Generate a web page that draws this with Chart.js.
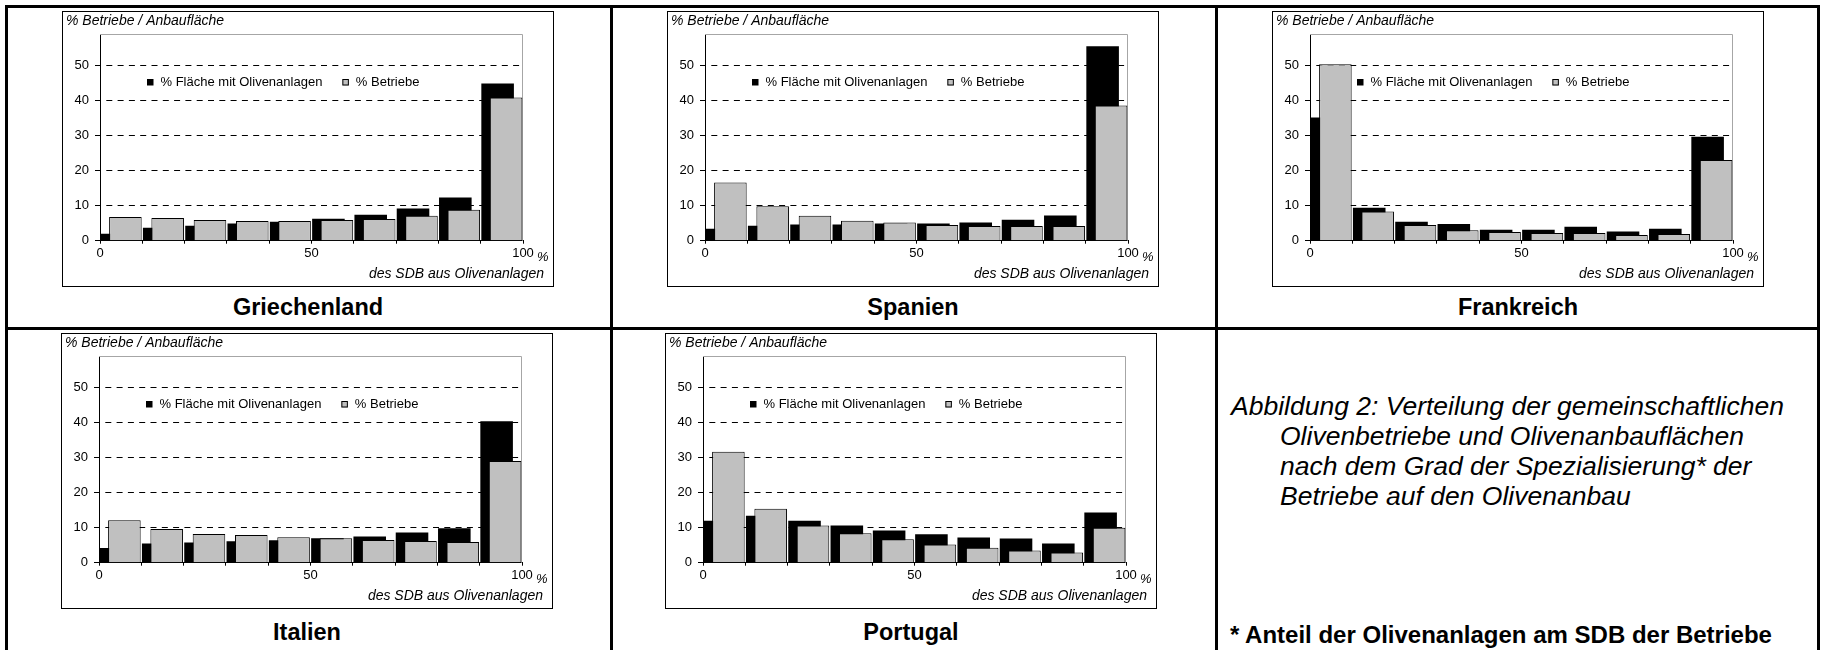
<!DOCTYPE html>
<html>
<head>
<meta charset="utf-8">
<script src="https://cdn.jsdelivr.net/npm/chart.js@4.4.1/dist/chart.umd.min.js"></script>
<style>
  body { margin: 0; width: 1822px; height: 650px; background: #fff; position: relative; overflow: hidden;
         font-family: 'Liberation Sans', Arial, sans-serif; color: #000; }
  .line { position: absolute; background: #000; }
  .frame { position: absolute; width: 490px; height: 274px; border: 1px solid #000; background: #fff; }
  .frame canvas { display: block; }
  .land { position: absolute; width: 492px; text-align: center; font-weight: bold; font-size: 23.5px; line-height: 28px; }
  .caption { position: absolute; left: 1231px; top: 391px; font-style: italic; font-size: 26.5px; line-height: 30px; white-space: nowrap; }
  .caption div + div { padding-left: 49px; }
  .note { position: absolute; left: 1230px; top: 621px; font-weight: bold; font-size: 24px; line-height: 28px; white-space: nowrap; }
</style>
</head>
<body>
<div class="line" style="left:5px;top:5px;width:1815px;height:3px"></div>
<div class="line" style="left:5px;top:327px;width:1815px;height:3px"></div>
<div class="line" style="left:5px;top:5px;width:3px;height:645px"></div>
<div class="line" style="left:610px;top:5px;width:3px;height:645px"></div>
<div class="line" style="left:1215px;top:5px;width:3px;height:645px"></div>
<div class="line" style="left:1817px;top:5px;width:3px;height:645px"></div>

<div class="frame" style="left:62px;top:11px"><canvas id="chartGR" width="490" height="274"></canvas></div>
<div class="frame" style="left:667px;top:11px"><canvas id="chartES" width="490" height="274"></canvas></div>
<div class="frame" style="left:1272px;top:11px"><canvas id="chartFR" width="490" height="274"></canvas></div>
<div class="frame" style="left:61px;top:333px"><canvas id="chartIT" width="490" height="274"></canvas></div>
<div class="frame" style="left:665px;top:333px"><canvas id="chartPT" width="490" height="274"></canvas></div>

<div class="land" style="left:62px;top:293px">Griechenland</div>
<div class="land" style="left:667px;top:293px">Spanien</div>
<div class="land" style="left:1272px;top:293px">Frankreich</div>
<div class="land" style="left:61px;top:618px">Italien</div>
<div class="land" style="left:665px;top:618px">Portugal</div>

<div class="caption">
  <div>Abbildung 2: Verteilung der gemeinschaftlichen</div>
  <div>Olivenbetriebe und Olivenanbauflächen</div>
  <div>nach dem Grad der Spezialisierung* der</div>
  <div>Betriebe auf den Olivenanbau</div>
</div>
<div class="note">* Anteil der Olivenanlagen am SDB der Betriebe</div>

<script>
// Klassen: Anteil der Olivenanlagen am SDB, Klassenmitte in %
const binMid = [5, 15, 25, 35, 45, 55, 65, 75, 85, 95];
const seriesLabels = ['% Fläche mit Olivenanlagen', '% Betriebe'];
const yTitle = '% Betriebe / Anbaufläche';
const xTitle = 'des SDB aus Olivenanlagen';
const yTickLabels = [0, 10, 20, 30, 40, 50];
const xTickLabels = [0, 50, 100];

const griechenlandFlaeche = [2.0, 3.7, 4.3, 4.9, 5.4, 6.3, 7.4, 9.2, 12.3, 44.9];
const griechenlandBetriebe = [6.8, 6.5, 5.9, 5.6, 5.6, 5.9, 6.2, 7.1, 8.8, 40.9];
const spanienFlaeche = [3.4, 4.3, 4.6, 4.6, 4.9, 4.9, 5.2, 6.0, 7.2, 55.5];
const spanienBetriebe = [16.6, 9.8, 7.1, 5.7, 5.2, 4.5, 4.2, 4.2, 4.2, 38.6];
const frankreichFlaeche = [35.2, 9.4, 5.4, 4.8, 3.1, 3.1, 4.0, 2.6, 3.4, 29.7];
const frankreichBetriebe = [50.4, 8.3, 4.5, 3.0, 2.5, 2.2, 2.2, 1.6, 1.9, 23.0];
const italienFlaeche = [4.2, 5.5, 5.8, 6.1, 6.4, 7.0, 7.5, 8.6, 9.8, 40.4];
const italienBetriebe = [12.1, 9.6, 8.2, 7.9, 7.3, 7.0, 6.5, 6.2, 5.9, 29.0];
const portugalFlaeche = [12.0, 13.4, 12.0, 10.6, 9.2, 8.1, 7.2, 6.9, 5.5, 14.3];
const portugalBetriebe = [31.7, 15.4, 10.6, 8.4, 6.7, 5.2, 4.3, 3.5, 2.9, 10.0];

const FONT = "'Liberation Sans', Arial, sans-serif";
Chart.defaults.font.family = FONT;
Chart.defaults.color = '#000';

// grey frame of the plot area (top + right), left/bottom are the axes
const plotFrame = {
  id: 'plotFrame',
  beforeDatasetsDraw(chart) {
    const {ctx, chartArea: a} = chart;
    ctx.save();
    ctx.strokeStyle = '#a6a6a6';
    ctx.lineWidth = 1;
    ctx.beginPath();
    ctx.moveTo(a.left, a.top + 0.5);
    ctx.lineTo(a.right - 0.5, a.top + 0.5);
    ctx.lineTo(a.right - 0.5, a.bottom);
    ctx.stroke();
    ctx.restore();
  }
};

// legend sitting inside the plot area like in the Excel charts
const innerLegend = {
  id: 'innerLegend',
  afterDraw(chart) {
    const {ctx, chartArea: a} = chart;
    let x = a.left + 47;
    const y = a.top + 48;
    ctx.save();
    ctx.font = '13px ' + FONT;
    ctx.textBaseline = 'middle';
    ctx.textAlign = 'left';
    chart.data.datasets.forEach(ds => {
      ctx.fillStyle = ds.backgroundColor;
      ctx.fillRect(x, y - 3, 6.5, 6.5);
      if (ds.borderWidth) {
        ctx.strokeStyle = '#000';
        ctx.lineWidth = 1;
        ctx.strokeRect(x + 0.5, y - 2.5, 5.5, 5.5);
      }
      ctx.fillStyle = '#000';
      ctx.fillText(ds.label, x + 13.5, y);
      x += 13.5 + ctx.measureText(ds.label).width + 20;
    });
    ctx.restore();
  }
};

// "%" behind the 100 label and the x axis note, right aligned
const axisNotes = {
  id: 'axisNotes',
  afterDraw(chart) {
    const {ctx, chartArea: a, scales} = chart;
    ctx.save();
    ctx.fillStyle = '#000';
    ctx.textBaseline = 'middle';
    ctx.font = 'italic 13px ' + FONT;
    ctx.textAlign = 'left';
    ctx.fillText('%', scales.x.getPixelForValue(100) + 14, a.bottom + 16.5);
    ctx.font = 'italic 14px ' + FONT;
    ctx.textAlign = 'right';
    ctx.fillText(xTitle, a.right + 21, a.bottom + 33.3);
    ctx.restore();
  }
};

// each series gets its own hidden x axis, shifted a little, so the bars overlap like in Excel
function hiddenAxis(shift) {
  return {
    type: 'linear', display: false, offset: false,
    min: shift, max: 100 + shift,
    ticks: { stepSize: 10 },
    grid: { offset: false }
  };
}

function createLandChart(id, flaeche, betriebe) {
  const ctx = document.getElementById(id).getContext('2d');
  return new Chart(ctx, {
    type: 'bar',
    data: {
      datasets: [{
        label: seriesLabels[0],
        data: binMid.map((x, i) => ({x: x, y: flaeche[i]})),
        xAxisID: 'xb',
        backgroundColor: '#000',
        borderColor: '#000',
        borderWidth: 0,
        grouped: false,
        barPercentage: 0.77,
        categoryPercentage: 1,
        order: 2
      },
      {
        label: seriesLabels[1],
        data: binMid.map((x, i) => ({x: x, y: betriebe[i]})),
        xAxisID: 'xg',
        backgroundColor: '#c0c0c0',
        borderColor: '#000',
        borderWidth: 1,
        grouped: false,
        barPercentage: 0.77,
        categoryPercentage: 1,
        order: 1
      }]
    },
    options: {
      responsive: false,
      animation: false,
      layout: { padding: { left: 3, right: 30, top: 0, bottom: 0 } },
      plugins: {
        legend: { display: false },
        tooltip: { enabled: false },
        title: {
          display: true,
          text: yTitle,
          align: 'start',
          color: '#000',
          font: { size: 14, style: 'italic', weight: 'normal', lineHeight: 1.2 },
          padding: { top: 1, bottom: 4.2 }
        }
      },
      scales: {
        x: {
          type: 'linear', position: 'bottom', offset: false,
          min: 0, max: 100,
          ticks: {
            stepSize: 10, autoSkip: false, maxRotation: 0, padding: 1.5,
            font: { size: 13 },
            callback: v => xTickLabels.includes(v) ? v : ''
          },
          grid: { offset: false, drawOnChartArea: false, drawTicks: true, tickLength: 3, tickColor: '#000' },
          border: { color: '#000', width: 1 },
          afterFit: s => { s.height = 45.3; }
        },
        xb: hiddenAxis(1),
        xg: hiddenAxis(-1),
        y: {
          min: 0, max: 59,
          ticks: {
            stepSize: 10, autoSkip: false, padding: 6,
            font: { size: 13 },
            callback: v => yTickLabels.includes(v) ? v : ''
          },
          grid: {
            color: c => (c.tick && c.tick.value > 0 && c.tick.value <= 50) ? '#000' : 'rgba(0,0,0,0)',
            tickColor: c => (c.tick && c.tick.value <= 50) ? '#000' : 'rgba(0,0,0,0)',
            lineWidth: 1,
            tickLength: 5
          },
          border: { color: '#000', width: 1, dash: [6, 5.3], dashOffset: 6 },
          afterFit: s => { s.width = 34; }
        }
      }
    },
    plugins: [plotFrame, innerLegend, axisNotes]
  });
}

createLandChart('chartGR', griechenlandFlaeche, griechenlandBetriebe);
createLandChart('chartES', spanienFlaeche, spanienBetriebe);
createLandChart('chartFR', frankreichFlaeche, frankreichBetriebe);
createLandChart('chartIT', italienFlaeche, italienBetriebe);
createLandChart('chartPT', portugalFlaeche, portugalBetriebe);
</script>
</body>
</html>
